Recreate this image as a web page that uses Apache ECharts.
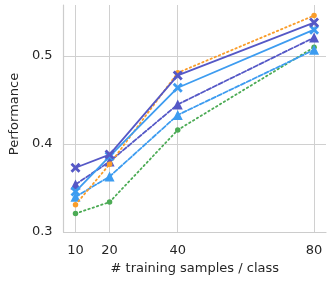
<!DOCTYPE html>
<html><head><meta charset="utf-8">
<script src="https://cdn.jsdelivr.net/npm/echarts@6/dist/echarts.min.js"></script>
<style>html,body{margin:0;padding:0;background:#fff}#c{width:332px;height:281px}</style>
</head><body><div id="c"></div>
<script>
const samples = [10, 20, 40, 80];
const yTicks = [0.3, 0.4, 0.5];
const orangeDotted = [0.331, 0.377, 0.481, 0.546];
const darkSolidX = [0.373, 0.388, 0.478, 0.538];
const lightSolidX = [0.346, 0.386, 0.464, 0.530];
const darkDashedTri = [0.354, 0.380, 0.445, 0.521];
const lightDashedTri = [0.340, 0.363, 0.433, 0.507];
const greenDotted = [0.321, 0.334, 0.416, 0.510];

const X = 'path://M-1,-0.6 L-0.4,0 L-1,0.6 L-0.6,1 L0,0.4 L0.6,1 L1,0.6 L0.4,0 L1,-0.6 L0.6,-1 L0,-0.4 L-0.6,-1 Z';
function pts(arr){ return samples.map((s,i)=>[s,arr[i]]); }
function ser(arr, color, type, symbol, size, z){
  return {type:'line', data:pts(arr), z:z, symbol:symbol, symbolSize:size,
    lineStyle:{color:color, width:1.8, type:type, cap:'round'},
    itemStyle:{color:color}, emphasis:{disabled:true}};
}
const series = [
  ser(greenDotted, '#4cab55', [1.5,3], 'circle', 5.5, 2),
  ser(lightDashedTri, '#3d9cf0', [4.5,2], 'triangle', 10, 3),
  ser(darkDashedTri, '#5558c6', [4.5,2], 'triangle', 10, 4),
  ser(orangeDotted, '#fa9d2a', [1.5,3], 'circle', 5.5, 5),
  ser(lightSolidX, '#3d9cf0', 'solid', X, 10, 6),
  ser(darkSolidX, '#5558c6', 'solid', X, 10, 7)
];
series[0].markLine = {silent:true, symbol:'none', label:{show:false}, animation:false,
  lineStyle:{color:'#d0d0d0', width:1, type:'solid'},
  data: samples.map(v=>({xAxis:v}))};
series[0].markLine.z = 0;

const chart = echarts.init(document.getElementById('c'), null, {renderer:'canvas'});
chart.setOption({
  animation:false,
  grid:{left:57, right:6, top:5, bottom:49, containLabel:false},
  xAxis:{type:'value', min:6.5, max:83.5,
    name:'# training samples / class', nameLocation:'middle', nameGap:30,
    nameTextStyle:{fontFamily:'DejaVu Sans', fontSize:13, color:'#262626'},
    axisLine:{show:true, lineStyle:{color:'#cccccc', width:1.2}},
    axisTick:{show:false},
    splitLine:{show:false},
    axisLabel:{customValues:samples, fontFamily:'DejaVu Sans', fontSize:13, color:'#262626', margin:12}
  },
  yAxis:{type:'value', min:0.3, max:0.558,
    name:'Performance', nameLocation:'middle', nameGap:39,
    nameTextStyle:{fontFamily:'DejaVu Sans', fontSize:13, color:'#262626', padding:[0,0,0,9]},
    axisLine:{show:true, lineStyle:{color:'#cccccc', width:1.2}},
    axisTick:{show:false, customValues:yTicks},
    splitLine:{show:true, lineStyle:{color:'#d0d0d0', width:1}},
    axisLabel:{customValues:yTicks, formatter:v=>v.toFixed(1), fontFamily:'DejaVu Sans', fontSize:13, color:'#262626', margin:11}
  },
  series:series
});
</script></body></html>
